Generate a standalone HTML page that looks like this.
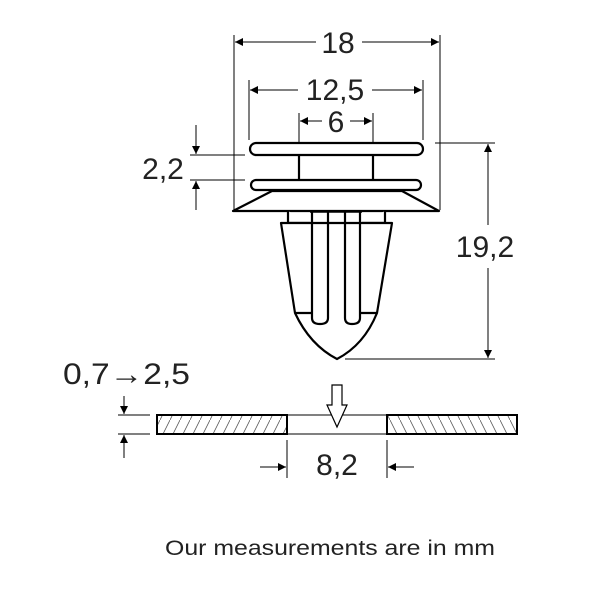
<!DOCTYPE html>
<html><head><style>body{margin:0;background:#fff}svg{display:block}</style></head><body>
<svg width="600" height="600" viewBox="0 0 600 600" xmlns="http://www.w3.org/2000/svg" font-family="Liberation Sans, Arial, sans-serif">
<defs>
<marker id="a" viewBox="0 0 10 10" refX="10" refY="5" markerWidth="11" markerHeight="8" orient="auto" markerUnits="userSpaceOnUse"><path d="M0,0L10,5L0,10z" fill="#000"/></marker>
<pattern id="h1" width="10" height="20" patternUnits="userSpaceOnUse"><path d="M0,20L10,0" stroke="#555" stroke-width="0.8"/></pattern>
<pattern id="h2" width="10" height="20" patternUnits="userSpaceOnUse"><path d="M0,0L10,20" stroke="#555" stroke-width="0.8"/></pattern>
</defs>
<g stroke="#000" stroke-width="1" fill="none">
<path d="M234,35V210M440,35V210M249,80V140M423,80V140M299,113V155M373,113V155M190,155H245M190,180H245M435,143H495M345,359H495"/>
<line x1="316" y1="42" x2="235" y2="42" marker-end="url(#a)"/><line x1="362" y1="42" x2="439" y2="42" marker-end="url(#a)"/>
<line x1="298" y1="90" x2="250" y2="90" marker-end="url(#a)"/><line x1="372" y1="90" x2="422" y2="90" marker-end="url(#a)"/>
<line x1="322" y1="121" x2="300" y2="121" marker-end="url(#a)"/><line x1="350" y1="121" x2="372" y2="121" marker-end="url(#a)"/>
<line x1="196" y1="125" x2="196" y2="154" marker-end="url(#a)"/><line x1="196" y1="210" x2="196" y2="181" marker-end="url(#a)"/>
<line x1="488" y1="225" x2="488" y2="144" marker-end="url(#a)"/><line x1="488" y1="268" x2="488" y2="358" marker-end="url(#a)"/>
</g>
<g stroke="#000" stroke-width="2.2" fill="#fff" stroke-linejoin="round">
<rect x="250" y="143" width="173" height="12" rx="6"/>
<path d="M299,155V180M373,155V180"/>
<rect x="251" y="180" width="170" height="10" rx="5"/>
<path d="M272,191H402L439,211H233Z"/>
<path d="M288,211V223H310M385,211V223H362"/>
<path d="M281,223L295,313Q310,345 337,359Q364,345 377,313L392,223Z"/>
<path d="M295,313H312M360,313H377" fill="none"/>
<path d="M312,212V318Q312,324 320,324Q328,324 328,318V212M345,212V318Q345,324 352,324Q360,324 360,318V212" fill="none"/>
<path d="M310,212H362" fill="none" stroke-width="1.5"/>
</g>
<rect x="157" y="415" width="130" height="19" fill="url(#h1)" stroke="#000" stroke-width="2"/>
<rect x="387" y="415" width="130" height="19" fill="url(#h2)" stroke="#000" stroke-width="2"/>
<path d="M287,415H387M287,434H387" stroke="#000" stroke-width="1"/>
<path d="M332,385H342V405H347L337,427L327,405H332Z" fill="#fff" stroke="#000" stroke-width="1.2"/>
<g stroke="#000" stroke-width="1" fill="none">
<path d="M287,440V478M387,440V478M118,415H150M118,434H150"/>
<line x1="260" y1="467" x2="286" y2="467" marker-end="url(#a)"/><line x1="414" y1="467" x2="388" y2="467" marker-end="url(#a)"/>
<line x1="124" y1="396" x2="124" y2="414" marker-end="url(#a)"/><line x1="124" y1="458" x2="124" y2="435" marker-end="url(#a)"/>
</g>
<g font-size="30" fill="#222" text-anchor="middle">
<text x="338" y="53">18</text>
<text x="335" y="100">12,5</text>
<text x="336" y="132">6</text>
<text x="163" y="179">2,2</text>
<text x="485" y="257">19,2</text>
<text x="337" y="475">8,2</text>
</g>
<text x="63" y="384" font-size="30" fill="#222" textLength="127" lengthAdjust="spacingAndGlyphs">0,7<tspan font-weight="bold">→</tspan>2,5</text>
<text x="165" y="555" font-size="21" fill="#222" textLength="330" lengthAdjust="spacingAndGlyphs">Our measurements are in mm</text>
</svg>
</body></html>
